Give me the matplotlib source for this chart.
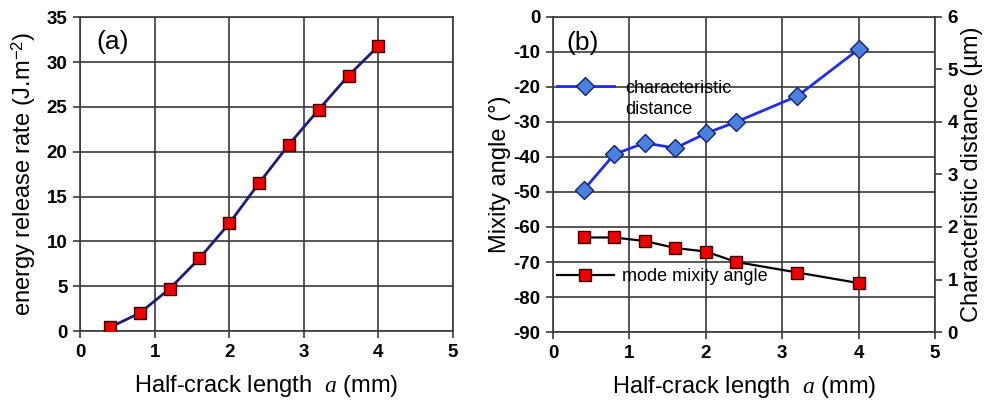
import matplotlib
matplotlib.use("Agg")
import matplotlib.pyplot as plt
from matplotlib.lines import Line2D

plt.rcParams['font.family'] = ['Liberation Sans', 'DejaVu Sans']
plt.rcParams['mathtext.fontset'] = 'custom'
plt.rcParams['mathtext.rm'] = 'Liberation Sans'
plt.rcParams['mathtext.it'] = 'Liberation Serif:italic'
plt.rcParams['axes.unicode_minus'] = False

# (a) energy release rate vs half-crack length
crack_a = [0.4, 0.8, 1.2, 1.6, 2.0, 2.4, 2.8, 3.2, 3.6, 4.0]
energy_rate = [0.4, 2.0, 4.7, 8.1, 12.0, 16.5, 20.8, 24.7, 28.5, 31.8]

# (b) mode mixity angle and characteristic distance
crack_b = [0.4, 0.8, 1.2, 1.6, 2.0, 2.4, 3.2, 4.0]
mixity_angle = [-63, -63, -64, -66, -67, -70, -73, -76]
char_distance = [2.70, 3.38, 3.60, 3.50, 3.78, 4.00, 4.49, 5.38]

x_ticks = [0, 1, 2, 3, 4, 5]
grid_col = '#3a3a3a'
tick_size = 13.5
xlabel = r'Half-crack length  $\mathit{a}$ (mm)'

fig = plt.figure(figsize=(9.94, 4.05), dpi=100)
ax1 = fig.add_axes([0.0805, 0.1827, 0.3752, 0.7745])
ax2 = fig.add_axes([0.5563, 0.180, 0.3843, 0.7787])


def bold_ticks(ax):
    ax.tick_params(direction='out', length=5, width=1.2, color=grid_col,
                   pad=4)
    for lab in ax.get_xticklabels() + ax.get_yticklabels():
        lab.set_fontsize(tick_size)
        lab.set_fontweight('bold')


def style_axes(ax):
    ax.grid(True, color=grid_col, linewidth=1.2)
    ax.set_axisbelow(True)
    for s in ax.spines.values():
        s.set_color(grid_col)
        s.set_linewidth(1.2)
    bold_ticks(ax)


# panel (a)
ax1.plot(crack_a, energy_rate, color='#1c1c7a', linewidth=2, zorder=3)
ax1.plot(crack_a, energy_rate, linestyle='none', marker='s', markersize=9,
         markerfacecolor='#ee0000', markeredgecolor='#3a0000',
         markeredgewidth=1, zorder=4)
ax1.set_xlim(0, 5)
ax1.set_ylim(0, 35)
ax1.set_xticks(x_ticks)
ax1.set_yticks(range(0, 36, 5))
style_axes(ax1)
ax1.set_xlabel(xlabel, fontsize=17, labelpad=9)
ax1.set_ylabel(r'energy release rate (J.m$^{\mathregular{-2}}$)', fontsize=17,
               labelpad=6)
ax1.text(0.22, 32.2, '(a)', fontsize=19, ha='left', va='center')

# panel (b)
ax2.plot(crack_b, mixity_angle, color='black', linewidth=1.6, marker='s',
         markersize=9, markerfacecolor='#ee0000', markeredgecolor='#3a0000',
         markeredgewidth=1, zorder=4)
ax2.set_xlim(0, 5)
ax2.set_ylim(-90, 0)
ax2.set_xticks(x_ticks)
ax2.set_yticks(range(-90, 1, 10))
style_axes(ax2)
ax2.set_xlabel(xlabel, fontsize=17, labelpad=9)
ax2.set_ylabel('Mixity angle (°)', fontsize=17, labelpad=2)
ax2.text(0.17, -7.5, '(b)', fontsize=19, ha='left', va='center')

ax3 = ax2.twinx()
ax3.plot(crack_b, char_distance, color='#1f2fe8', linewidth=2, marker='D',
         markersize=9, markerfacecolor='#4a80e0', markeredgecolor='#14206a',
         markeredgewidth=1, zorder=4)
ax3.set_ylim(0, 6)
ax3.set_yticks(range(0, 7))
for s in ax3.spines.values():
    s.set_visible(False)
bold_ticks(ax3)
ax3.set_ylabel('Characteristic distance (µm)', fontsize=17, labelpad=2)

# legends
h_dist = Line2D([], [], color='#1f2fe8', linewidth=2, marker='D',
                markersize=9, markerfacecolor='#4a80e0',
                markeredgecolor='#14206a')
h_blank = Line2D([], [], linestyle='none')
h_mix = Line2D([], [], color='black', linewidth=1.6, marker='s',
               markersize=9, markerfacecolor='#ee0000',
               markeredgecolor='#3a0000')
leg1 = ax3.legend([h_dist, h_blank], ['characteristic', 'distance'],
                  loc='upper left', bbox_to_anchor=(0.0, 0.812),
                  frameon=False, fontsize=13, handlelength=3.2,
                  handletextpad=0.6, borderaxespad=0, borderpad=0.2,
                  labelspacing=0.25)
ax3.add_artist(leg1)
ax3.legend([h_mix], ['mode mixity angle'], loc='upper left',
           bbox_to_anchor=(0.0, 0.215), frameon=False, fontsize=13,
           handlelength=3.2, handletextpad=0.4, borderaxespad=0,
           borderpad=0.2)

fig.savefig('out.png', dpi=100)
